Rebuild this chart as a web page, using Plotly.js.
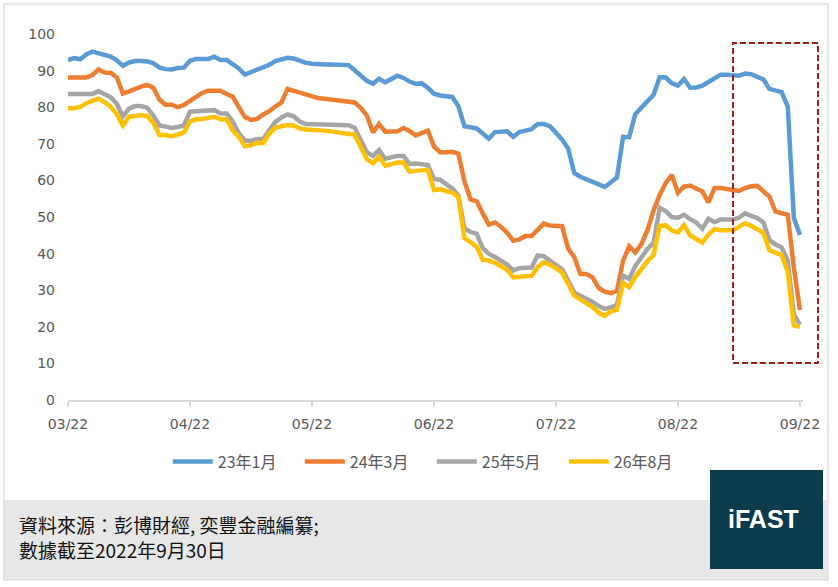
<!DOCTYPE html>
<html><head><meta charset="utf-8">
<script src="https://cdn.plot.ly/plotly-3.0.1.min.js"></script>
<style>html,body{margin:0;padding:0;background:#fff;}#chart{width:838px;height:587px;}</style>
</head><body><div id="chart"></div>
<script>
const tickLabels = ['03/22','04/22','05/22','06/22','07/22','08/22','09/22'];
const seriesNames = ['23年1月','24年3月','25年5月','26年8月'];
const seriesColors = ['#5B9BD5','#ED7D31','#A5A5A5','#FFC000'];

const s23Jan = [92.9,93.4,93.1,94.4,95.2,94.8,94.4,93.8,92.8,91.3,
92.2,92.6,92.6,92.5,92.0,90.8,90.4,90.3,90.7,90.8,
92.7,93.2,93.2,93.2,93.8,92.9,92.9,91.8,90.6,88.9,
89.5,90.2,90.8,91.6,92.6,93.2,93.5,93.3,92.6,92.1,
91.9,91.7,91.7,91.7,91.7,91.6,91.5,90.1,88.7,87.2,
86.4,87.8,86.8,87.6,88.6,88.0,87.0,86.4,86.5,85.3,
83.7,83.2,83.0,82.8,80.3,74.8,74.5,74.2,72.8,71.4,
73.2,73.3,73.4,71.9,73.2,73.6,74.0,75.4,75.4,74.8,
73.0,71.2,68.7,62.0,61.0,60.2,59.7,58.9,58.2,59.4,
60.8,71.9,71.8,78.1,79.8,81.5,83.4,88.2,88.1,86.5,
85.9,87.7,85.3,85.4,85.9,86.9,88.0,88.9,88.9,88.9,
88.6,89.2,89.0,88.3,87.6,85.0,84.4,84.1,80.2,49.8,
45.1];

const s24Mar = [88.1,88.1,88.1,88.1,88.8,90.3,89.5,89.4,88.1,83.7,
84.3,85.1,85.6,86.1,85.3,82.0,80.7,80.7,80.0,80.6,
81.8,83.0,83.9,84.5,84.6,84.5,83.6,82.9,80.0,77.3,
76.5,76.8,78.0,78.9,80.2,81.3,85.0,84.5,83.9,83.3,
82.9,82.5,82.3,82.1,82.0,82.0,81.6,81.3,79.8,77.7,
73.1,75.4,73.3,73.3,73.4,74.3,73.5,72.3,72.9,73.6,
69.3,67.7,67.7,67.8,67.3,59.7,54.8,54.3,51.0,47.9,
48.5,47.3,45.7,43.5,43.9,44.8,44.8,46.6,48.2,47.7,
47.5,47.5,41.3,39.1,34.4,34.4,33.5,30.6,29.6,29.2,
29.8,38.0,42.0,40.3,42.6,46.4,51.8,56.0,59.3,61.5,
56.6,58.3,58.6,57.8,57.0,54.0,57.9,57.9,57.6,57.4,
57.1,57.9,58.4,58.5,57.0,55.6,51.5,51.1,50.6,36.2,
24.6];

const s25May = [83.6,83.6,83.6,83.6,83.6,84.4,83.7,82.7,80.9,77.5,
79.6,80.3,80.3,79.8,77.7,75.0,74.7,74.3,74.6,75.0,
78.8,78.9,79.1,79.4,79.2,78.3,78.3,76.1,72.9,70.9,
70.8,71.3,71.3,73.7,76.0,77.2,78.0,77.5,76.1,75.4,
75.4,75.4,75.3,75.2,75.1,75.1,75.1,74.4,71.0,67.7,
66.7,68.3,65.9,66.4,66.7,66.7,64.5,64.6,64.5,64.2,
60.4,60.2,59.0,57.8,55.9,46.9,45.9,45.4,41.5,39.9,
39.1,37.9,37.0,35.4,36.0,36.1,36.2,39.5,39.3,38.1,
36.9,35.7,32.6,29.4,28.5,27.7,26.8,25.7,24.9,25.3,
26.0,34.0,33.1,36.6,39.2,41.3,42.9,52.5,51.6,50.0,
49.8,50.6,49.4,48.5,46.8,49.5,48.6,49.3,49.3,49.3,
49.8,51.0,50.3,49.7,48.5,43.7,42.5,41.7,38.1,23.4,
20.6];

const s26Aug = [79.7,79.7,80.1,81.1,81.7,82.3,81.4,80.1,78.1,75.0,
77.4,77.6,77.8,77.6,75.7,72.4,72.4,72.0,72.4,73.1,
76.1,76.7,76.8,77.0,77.4,76.7,76.7,73.7,71.9,69.3,
69.6,70.3,70.2,72.8,74.4,74.8,75.1,75.0,74.2,73.9,
73.9,73.8,73.6,73.4,73.2,73.1,73.0,72.5,69.1,65.8,
64.7,66.5,64.0,64.5,64.9,64.9,62.4,62.6,62.8,62.9,
57.4,57.6,57.1,56.7,55.4,44.3,43.1,41.9,38.3,38.1,
37.5,36.7,35.6,33.5,33.5,33.8,33.9,36.3,37.6,37.0,
36.0,34.8,31.7,28.5,27.5,26.6,25.4,23.9,23.0,24.2,
24.6,32.0,30.8,33.6,35.8,37.9,39.6,47.6,47.7,46.3,
45.8,47.8,45.0,44.0,43.0,45.2,46.7,46.4,46.4,46.4,
47.3,48.3,47.6,46.7,45.7,40.9,40.1,39.6,35.0,20.4,
20.0];

const footerLines = ['資料來源：彭博財經, 奕豐金融編纂;','數據截至2022年9月30日'];
const logoText = 'iFAST';

const allSeries = [s23Jan, s24Mar, s25May, s26Aug];
const dayIndex = s23Jan.map((_, i) => i);
const tickPositions = tickLabels.map((_, k) => k * 20);

const traces = allSeries.map((vals, k) => ({
  type: 'scatter', mode: 'lines', name: seriesNames[k],
  x: dayIndex, y: vals,
  line: {color: seriesColors[k], width: 4.5},
  hoverinfo: 'skip'
}));

const tickFont = {family: 'DejaVu Sans', size: 14, color: '#595959'};

const layout = {
  width: 838, height: 587,
  margin: {l: 68, r: 35, t: 34, b: 187},
  paper_bgcolor: '#ffffff', plot_bgcolor: '#ffffff',
  showlegend: true,
  xaxis: {
    range: [0, 120.5], showgrid: false, zeroline: false,
    showline: true, linecolor: '#d9d9d9', linewidth: 1.5,
    ticks: 'outside', ticklen: 5, tickwidth: 1.5, tickcolor: '#d9d9d9',
    tickvals: tickPositions, ticktext: tickLabels, tickfont: tickFont,
    ticklabelstandoff: 6, fixedrange: true
  },
  yaxis: {
    range: [0, 100], tick0: 0, dtick: 10, showgrid: false, zeroline: false,
    showline: false, ticks: '', tickfont: tickFont, ticklabelstandoff: 12,
    fixedrange: true
  },
  legend: {
    orientation: 'h', x: 0.495, xanchor: 'center', y: -0.1686, yanchor: 'middle',
    font: {family: 'Noto Sans CJK TC', size: 16, color: '#595959'},
    bgcolor: 'rgba(0,0,0,0)', itemwidth: 40,
    entrywidth: 77, entrywidthmode: 'pixels'
  },
  shapes: [
    {type: 'rect', xref: 'paper', yref: 'paper', x0: -0.0884, x1: 1.034, y0: -0.4918, y1: -0.2732,
     fillcolor: '#e7e7e7', line: {width: 0}, layer: 'below'},
    {type: 'rect', xref: 'paper', yref: 'paper', x0: -0.0871, x1: 1.034, y0: -0.4918, y1: 1.082,
     fillcolor: 'rgba(0,0,0,0)', line: {color: '#e0e0e0', width: 1.5}, layer: 'below'},
    {type: 'rect', xref: 'paper', yref: 'paper', x0: 0.8735, x1: 1.0272, y0: -0.4617, y1: -0.1913,
     fillcolor: '#0c3b4e', line: {width: 0}},
    {type: 'rect', xref: 'paper', yref: 'paper', x0: 0.9048, x1: 1.0204, y0: 0.1011, y1: 0.9754,
     fillcolor: 'rgba(0,0,0,0)', line: {color: '#a51c1c', width: 2, dash: '6px,3px'}}
  ],
  annotations: [
    {xref: 'paper', yref: 'paper', x: -0.0694, y: -0.3756, xanchor: 'left', yanchor: 'middle',
     align: 'left', text: footerLines.join('<br>'), showarrow: false,
     font: {family: 'Noto Sans CJK TC', size: 19, color: '#111111'}},
    {xref: 'paper', yref: 'paper', x: 0.9462, y: -0.325, xanchor: 'center', yanchor: 'middle',
     text: '<b>' + logoText + '</b>', showarrow: false,
     font: {family: 'Liberation Sans', size: 25, color: '#ffffff'}}
  ]
};

Plotly.newPlot('chart', traces, layout, {displayModeBar: false, staticPlot: true});
</script></body></html>
